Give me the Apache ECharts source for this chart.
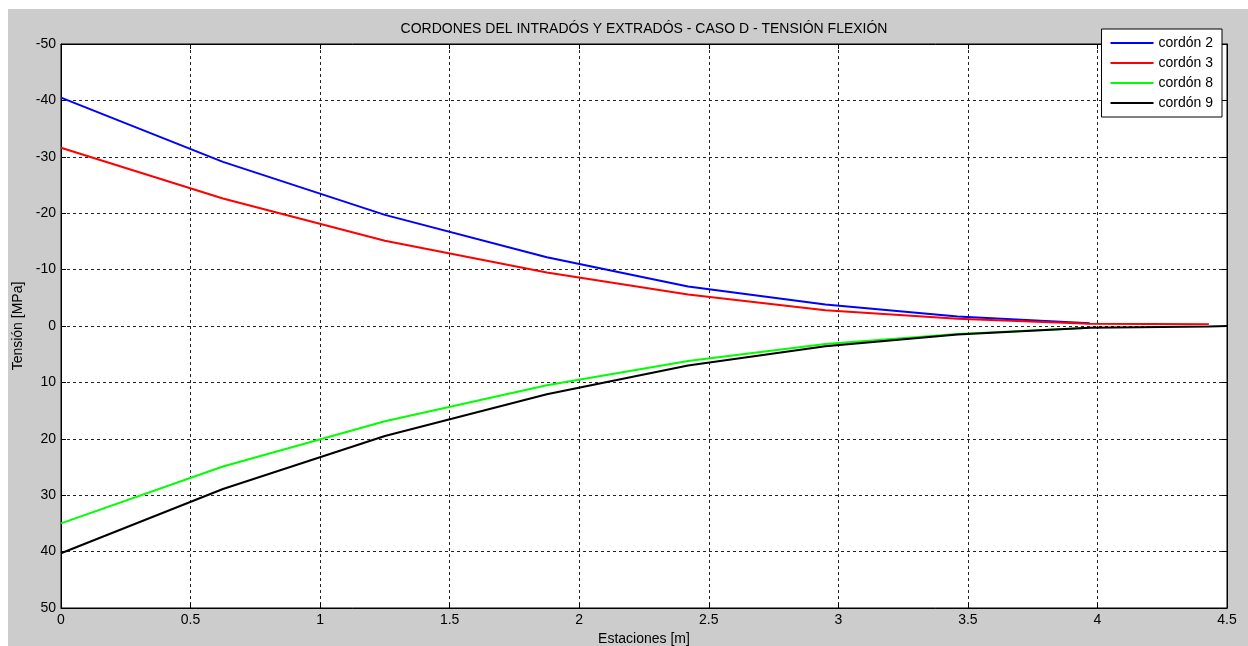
<!DOCTYPE html>
<html>
<head>
<meta charset="utf-8">
<script src="https://cdn.jsdelivr.net/npm/echarts@6/dist/echarts.min.js"></script>
<style>
  html, body { margin: 0; padding: 0; background: #ffffff; }
  #chart { position: absolute; left: 8px; top: 9px; width: 1240px; height: 637px; }
</style>
</head>
<body>
<div id="chart"></div>
<script>
// Stations along the span [m]
const stations = [0, 0.625, 1.25, 1.875, 2.42, 2.95, 3.46, 3.97, 4.43, 4.5];

// Bending stress per chord [MPa] (negative = compression, drawn upward)
const cordon2 = [-40.5, -29.1, -19.7, -12.2, -7.0, -3.8, -1.7, -0.5];
const cordon3 = [-31.6, -22.6, -15.1, -9.5, -5.6, -2.8, -1.3, -0.4, -0.3];
const cordon8 = [35.0, 24.9, 16.9, 10.5, 6.2, 3.2, 1.4, 0.3];
const cordon9 = [40.3, 28.9, 19.5, 12.1, 7.0, 3.6, 1.5, 0.3, 0.1, 0.0];

const seriesNames = ['cordón 2', 'cordón 3', 'cordón 8', 'cordón 9'];
const seriesColors = ['#0000ff', '#ff0000', '#00ff00', '#000000'];
const seriesValues = [cordon2, cordon3, cordon8, cordon9];

const xTickInterval = 0.5;
const yTickInterval = 10;

const titleText = 'CORDONES DEL INTRADÓS Y EXTRADÓS - CASO D - TENSIÓN FLEXIÓN';

const font = 'Liberation Sans, Arial, sans-serif';

function pairs(values) {
  return values.map((v, i) => [stations[i], v]);
}

const chart = echarts.init(document.getElementById('chart'), null, { renderer: 'canvas' });

const gridLine = { show: true, lineStyle: { color: '#222', width: 1, type: [3, 3] } };
const boxLine = { show: true, onZero: false, lineStyle: { color: '#000', width: 1 } };
const innerTick = { show: true, inside: true, length: 5, lineStyle: { color: '#000' } };
const labelStyle = { fontFamily: font, fontSize: 14, color: '#000', margin: 5 };
const nameStyle = { fontFamily: font, fontSize: 14, color: '#000' };

const chartWidth = 1240;
const gridLeft = 53, gridRight = 21;

chart.setOption({
  backgroundColor: '#cccccc',
  animation: false,
  // Title centred over the plotting area
  graphic: [{
    type: 'text',
    x: gridLeft + (chartWidth - gridLeft - gridRight) / 2,
    y: 20,
    style: {
      text: titleText,
      align: 'center',
      verticalAlign: 'middle',
      fontFamily: font,
      fontSize: 14,
      fill: '#000'
    }
  }],
  legend: {
    data: seriesNames,
    orient: 'vertical',
    right: 26,
    top: 20,
    backgroundColor: '#ffffff',
    borderColor: '#000000',
    borderWidth: 1,
    borderRadius: 0,
    padding: [7, 9, 7, 9],
    itemGap: 6,
    itemWidth: 43,
    itemHeight: 2,
    icon: 'rect',
    textStyle: { fontFamily: font, fontSize: 14, color: '#000' }
  },
  grid: {
    left: gridLeft,
    top: 35,
    right: gridRight,
    bottom: 38,
    outerBoundsMode: 'none',
    containLabel: false,
    show: true,
    backgroundColor: '#ffffff',
    borderColor: '#000000',
    borderWidth: 1
  },
  xAxis: [{
    type: 'value',
    min: 0,
    max: 4.5,
    interval: xTickInterval,
    name: 'Estaciones [m]',
    nameLocation: 'middle',
    nameGap: 24,
    nameTextStyle: nameStyle,
    axisLine: boxLine,
    axisTick: innerTick,
    axisLabel: labelStyle,
    splitLine: gridLine
  }, {
    type: 'value',
    position: 'top',
    min: 0,
    max: 4.5,
    interval: xTickInterval,
    axisLine: boxLine,
    axisTick: innerTick,
    axisLabel: { show: false },
    splitLine: { show: false }
  }],
  yAxis: [{
    type: 'value',
    inverse: true,
    min: -50,
    max: 50,
    interval: yTickInterval,
    name: 'Tensión [MPa]',
    nameLocation: 'middle',
    nameGap: 35,
    nameTextStyle: nameStyle,
    axisLine: boxLine,
    axisTick: innerTick,
    axisLabel: labelStyle,
    splitLine: gridLine
  }, {
    type: 'value',
    position: 'right',
    inverse: true,
    min: -50,
    max: 50,
    interval: yTickInterval,
    axisLine: boxLine,
    axisTick: innerTick,
    axisLabel: { show: false },
    splitLine: { show: false }
  }],
  series: seriesNames.map((name, i) => ({
    name: name,
    type: 'line',
    xAxisIndex: 0,
    yAxisIndex: 0,
    data: pairs(seriesValues[i]),
    symbol: 'none',
    smooth: false,
    color: seriesColors[i],
    lineStyle: { color: seriesColors[i], width: 2 },
    z: 3 + i
  }))
});
</script>
</body>
</html>
